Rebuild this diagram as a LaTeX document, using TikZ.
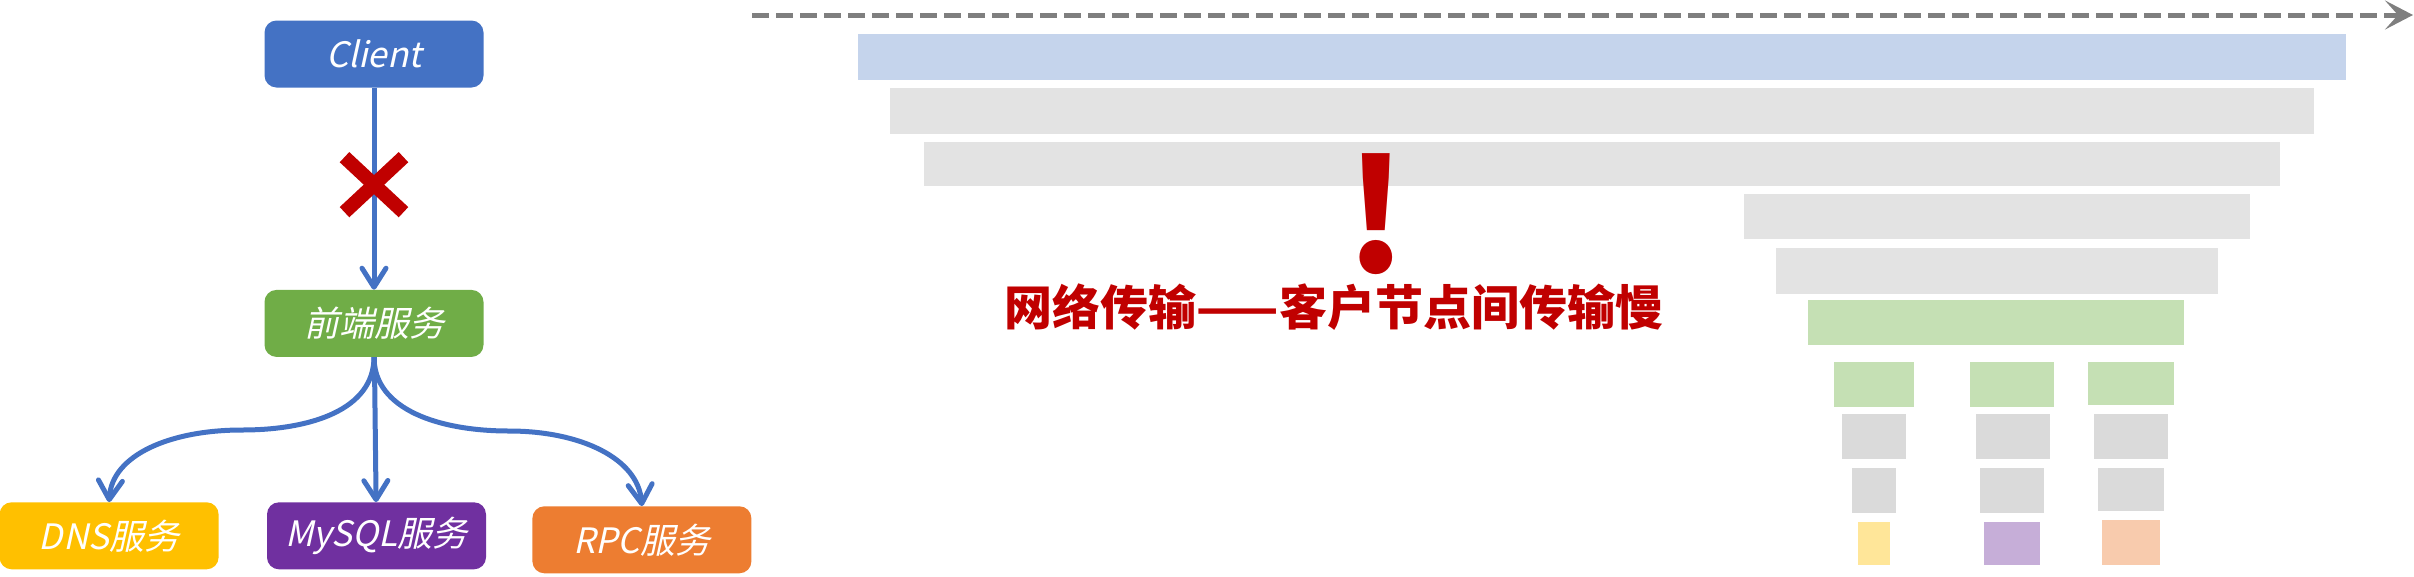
\documentclass[tikz,border=0pt]{standalone}
\usepackage{fontspec}
\usepackage{xcolor}
\usepackage{tikz}
\usetikzlibrary{arrows.meta,shapes.misc,positioning}
\newfontfamily\cjk{Noto Sans CJK SC}
\newfontfamily\cjkslant{Noto Sans CJK SC}[FakeSlant=0.22]
\definecolor{svcblue}{HTML}{4472C4}
\definecolor{svcgreen}{HTML}{70AD47}
\definecolor{svcgold}{HTML}{FFC000}
\definecolor{svcpurple}{HTML}{7030A0}
\definecolor{svcorange}{HTML}{ED7D31}
\definecolor{alertred}{HTML}{C00000}
\definecolor{timegray}{HTML}{7F7F7F}
\definecolor{spanblue}{HTML}{C5D4EC}
\definecolor{spangray}{HTML}{E3E3E3}
\definecolor{spandark}{HTML}{DADADA}
\definecolor{spangreen}{HTML}{C5E0B4}
\definecolor{spangold}{HTML}{FFE699}
\definecolor{spanpurple}{HTML}{C6AED8}
\definecolor{spanorange}{HTML}{F8CBAD}

\begin{document}
\begin{tikzpicture}[
    x=1pt, y=-1pt,
    svc/.style={rounded corners=12pt, inner sep=0pt,
                minimum width=219pt, minimum height=67pt,
                text=white, font=\cjkslant\fontsize{35}{40}\selectfont},
    link/.style={draw=svcblue, line width=5pt,
                 -{Straight Barb[length=19pt,width=24pt,round]}},
    blocked/.style={cross out, draw=alertred, line width=14pt,
                    minimum width=45pt, minimum height=41pt, inner sep=0pt},
    timeline/.style={draw=timegray, line width=5pt, dash pattern=on 17pt off 7pt,
                     -{Stealth[length=28pt,width=29pt,inset=13pt]}},
    alert/.style={text=alertred, inner sep=0pt},
    node distance=48pt
]
\useasboundingbox (0,0) rectangle (2414,576);

% call graph
\node[svc, fill=svcblue] (client) at (374,54) {Client};
\node[svc, fill=svcgreen, below=202pt of client] (front) {前端服务};
\node[svc, fill=svcpurple, below=145pt of front, xshift=2.5pt] (mysql) {MySQL服务};
\node[svc, fill=svcgold, left=of mysql] (dns) {DNS服务};
\node[svc, fill=svcorange, right=46pt of mysql, yshift=-4pt] (rpc) {RPC服务};

\draw[link] (client) -- node[blocked, pos=0.48] (cut) {} (front);
\draw[link] (front.south) .. controls (374,410) and (310,430) .. (242,430)
                          .. controls (170,430) and (112,455) .. (dns.north);
\draw[link] (front) -- (mysql);
\draw[link] (front.south) .. controls (374,410) and (440,431) .. (509,431)
                          .. controls (580,431) and (638,458) .. (rpc.north);

% timeline
\coordinate (t0) at (752,15);
\coordinate (t1) at (2413,15);
\draw[timeline] (t0) -- (t1);

% spans
\fill[spanblue] (858,34) rectangle (2346,80);
\fill[spangray] (890,88) rectangle (2314,134);
\fill[spangray] (924,142) rectangle (2280,186);
\fill[spangray] (1744,194) rectangle (2250,239);
\fill[spangray] (1776,248) rectangle (2218,294);
\fill[spangreen] (1808,300) rectangle (2184,345);

\fill[spangreen] (1834,362) rectangle (1914,407);
\fill[spangreen] (1970,362) rectangle (2054,407);
\fill[spangreen] (2088,362) rectangle (2174,405);

\fill[spandark] (1842,414) rectangle (1906,459);
\fill[spandark] (1976,414) rectangle (2050,459);
\fill[spandark] (2094,414) rectangle (2168,459);

\fill[spandark] (1852,468) rectangle (1896,513);
\fill[spandark] (1980,468) rectangle (2044,513);
\fill[spandark] (2098,468) rectangle (2164,511);

\fill[spangold] (1858,522) rectangle (1890,565);
\fill[spanpurple] (1984,522) rectangle (2040,565);
\fill[spanorange] (2102,520) rectangle (2160,565);

% alert
\node[alert, anchor=base, font=\cjk\bfseries\fontsize{155}{160}\selectfont] (bang) at (1376,272) {!};
\node[alert, font=\cjk\bfseries\fontsize{48}{52}\selectfont] (slow) at (1334,307) {网络传输——客户节点间传输慢};
\end{tikzpicture}
\end{document}
